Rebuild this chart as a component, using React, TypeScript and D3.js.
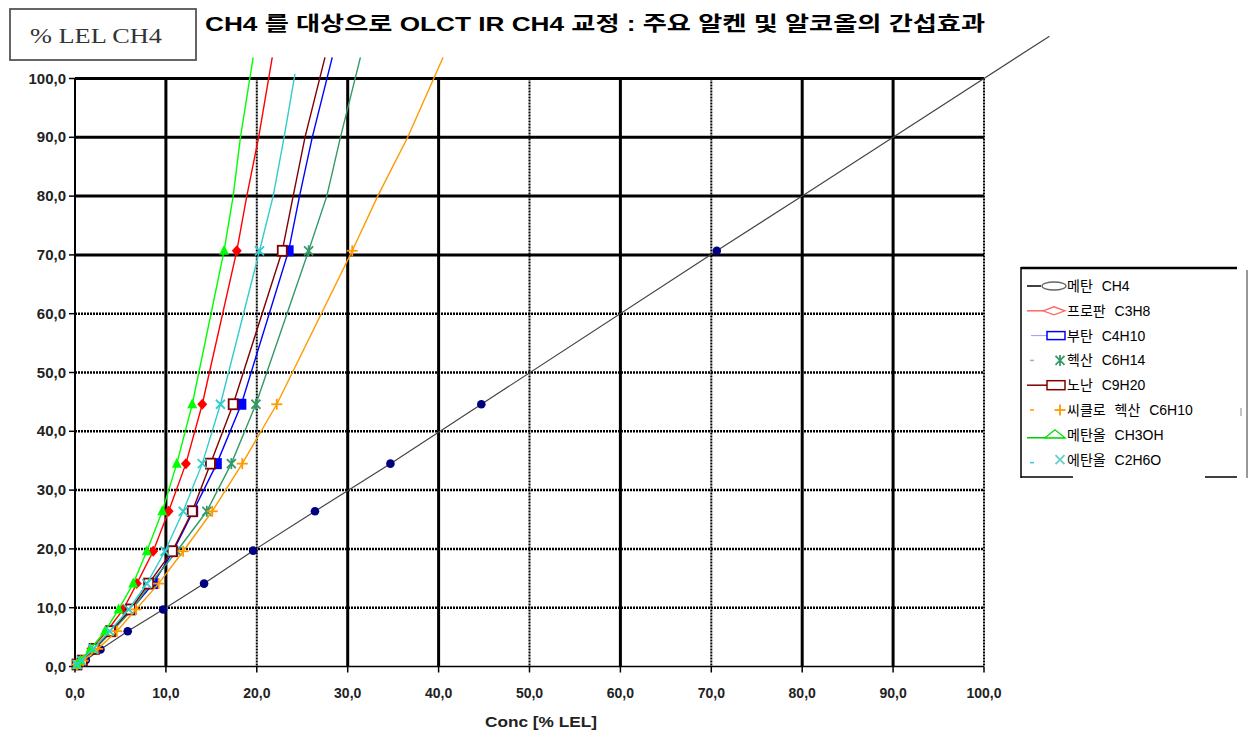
import React from 'react';
import * as d3 from 'd3';

// ---- data ----
const yLevels = [0, 1, 3, 6, 9.7, 14.1, 19.6, 26.4, 34.5, 44.6, 70.7, 80, 90];
const ch4Y = [0, 1.1, 2.9, 6.0, 9.7, 14.1, 19.7, 26.4, 34.5, 44.6, 70.7, 80, 90];
const markedCount = 11;
const ch4X = [0, 1.2, 2.8, 5.8, 9.7, 14.2, 19.6, 26.4, 34.7, 44.7, 70.6, 80, 90];
const propaneX = [0, 0.7, 1.8, 3.5, 5.3, 6.8, 8.6, 10.3, 12.2, 14.0, 17.8, 18.9, 20.2];
const butaneX = [0, 0.8, 2.2, 4.0, 6.2, 8.6, 10.8, 13.0, 15.6, 18.3, 23.5, 24.7, 26.1];
const hexaneX = [0, 0.8, 2.2, 4.1, 6.3, 8.3, 11.2, 14.5, 17.2, 19.9, 25.7, 27.7, 29.2];
const nonaneX = [0, 0.8, 2.1, 3.9, 6.1, 8.1, 10.7, 12.9, 14.9, 17.4, 22.8, 24.0, 25.3];
const cyclohexaneX = [0, 0.9, 2.5, 4.6, 6.7, 9.2, 11.9, 15.1, 18.4, 22.2, 30.5, 33.3, 36.6];
const methanolX = [0, 0.6, 1.7, 3.3, 4.8, 6.4, 7.9, 9.6, 11.2, 12.9, 16.4, 17.4, 18.2];
const ethanolX = [0, 0.7, 2.0, 3.8, 5.9, 7.9, 9.9, 11.9, 14.0, 16.0, 20.3, 21.8, 23.0];
const topX = [107.2, 21.7, 28.3, 31.4, 27.5, 40.5, 19.6, 24.2];
const topY = [107.2, 103.6, 103.6, 103.6, 103.6, 103.6, 103.6, 100.8];
const seriesNames = ['메탄 CH4', '프로판 C3H8', '부탄 C4H10', '헥산 C6H14', '노난 C9H20', '씨클로 헥산 C6H10', '메탄올 CH3OH', '에탄올 C2H6O'];
const xTicks = [0, 10, 20, 30, 40, 50, 60, 70, 80, 90, 100];
const yTicks = [0, 10, 20, 30, 40, 50, 60, 70, 80, 90, 100];
const titleText = 'CH4 를  대상으로 OLCT IR CH4 교정 :  주요 알켄 및 알코올의 간섭효과';
const xAxisTitle = 'Conc [% LEL]';
const boxLabel = '% LEL CH4';

// ---- styles ----
const seriesX = [ch4X, propaneX, butaneX, hexaneX, nonaneX, cyclohexaneX, methanolX, ethanolX];
const lineColors = ['#444444', '#FF0000', '#0000FF', '#339966', '#800000', '#FF9900', '#00FF00', '#33CCCC'];
const markerColors = ['#000080', '#FF0000', '#0000FF', '#339966', '#800000', '#FF9900', '#00FF00', '#33CCCC'];
const markerTypes = ['circle', 'diamond', 'square', 'star', 'hsquare', 'plus', 'triangle', 'cross'];
const vSolid = new Set([10, 30, 40, 60, 80, 90]);
const hSolid = new Set([70, 80, 90, 100]);

const FONT = '"Liberation Sans", Arial, "Noto Sans CJK KR", sans-serif';

function Marker({ type, cx, cy, color }: { type: string; cx: number; cy: number; color: string }) {
  switch (type) {
    case 'circle':
      return <circle cx={cx} cy={cy} r={4.3} fill={color} />;
    case 'diamond':
      return <path d={`M${cx},${cy - 5.5}L${cx + 5},${cy}L${cx},${cy + 5.5}L${cx - 5},${cy}Z`} fill={color} />;
    case 'square':
      return <rect x={cx - 5} y={cy - 5.5} width={10} height={11} fill={color} />;
    case 'hsquare':
      return <rect x={cx - 4.5} y={cy - 5} width={9} height={10} fill="#fff" stroke={color} strokeWidth={1.8} />;
    case 'triangle':
      return <path d={`M${cx},${cy - 6}L${cx + 5},${cy + 4}L${cx - 5},${cy + 4}Z`} fill={color} />;
    case 'plus':
      return (
        <g stroke={color} strokeWidth={1.8}>
          <line x1={cx - 5.5} y1={cy} x2={cx + 5.5} y2={cy} />
          <line x1={cx} y1={cy - 5.5} x2={cx} y2={cy + 5.5} />
        </g>
      );
    case 'cross':
      return (
        <g stroke={color} strokeWidth={1.8}>
          <line x1={cx - 4.5} y1={cy - 4.5} x2={cx + 4.5} y2={cy + 4.5} />
          <line x1={cx - 4.5} y1={cy + 4.5} x2={cx + 4.5} y2={cy - 4.5} />
        </g>
      );
    case 'star':
      return (
        <g stroke={color} strokeWidth={1.8}>
          <line x1={cx - 4.5} y1={cy - 4.5} x2={cx + 4.5} y2={cy + 4.5} />
          <line x1={cx - 4.5} y1={cy + 4.5} x2={cx + 4.5} y2={cy - 4.5} />
          <line x1={cx} y1={cy - 5.5} x2={cx} y2={cy + 5.5} />
        </g>
      );
    default:
      return null;
  }
}

function LegendSymbol({ i, x, y }: { i: number; x: number; y: number }) {
  switch (i) {
    case 0:
      return (
        <g>
          <line x1={x} y1={y} x2={x + 14} y2={y} stroke="#000" strokeWidth={1.5} />
          <ellipse cx={x + 27} cy={y} rx={12} ry={4} fill="#fff" stroke="#666" strokeWidth={1.3} />
        </g>
      );
    case 1:
      return (
        <g>
          <line x1={x} y1={y} x2={x + 16} y2={y} stroke="#FF6666" strokeWidth={1.5} />
          <path d={`M${x + 16},${y}L${x + 27},${y - 4}L${x + 38},${y}L${x + 27},${y + 4}Z`} fill="#fff" stroke="#FF6666" strokeWidth={1.3} />
        </g>
      );
    case 2:
      return (
        <g>
          <line x1={x + 4} y1={y} x2={x + 20} y2={y} stroke="#9999FF" strokeWidth={1} />
          <rect x={x + 20} y={y - 4} width={18} height={8} fill="#fff" stroke="#0000FF" strokeWidth={1.5} />
        </g>
      );
    case 3:
      return (
        <g>
          <line x1={x + 3} y1={y} x2={x + 7} y2={y} stroke="#aaa" strokeWidth={1.5} />
          <Marker type="star" cx={x + 33} cy={y} color="#339966" />
        </g>
      );
    case 4:
      return (
        <g>
          <line x1={x} y1={y} x2={x + 20} y2={y} stroke="#800000" strokeWidth={1.5} />
          <rect x={x + 20} y={y - 4.5} width={18} height={9} fill="#fff" stroke="#800000" strokeWidth={1.5} />
        </g>
      );
    case 5:
      return (
        <g>
          <line x1={x + 3} y1={y} x2={x + 7} y2={y} stroke="#FF9900" strokeWidth={1.5} />
          <Marker type="plus" cx={x + 33} cy={y} color="#FF9900" />
        </g>
      );
    case 6:
      return (
        <g>
          <line x1={x} y1={y + 3} x2={x + 38} y2={y + 3} stroke="#00CC00" strokeWidth={1.5} />
          <path d={`M${x + 18},${y + 3}L${x + 28},${y - 5}L${x + 38},${y + 3}Z`} fill="#fff" stroke="#00DD00" strokeWidth={1.3} />
        </g>
      );
    case 7:
      return (
        <g>
          <line x1={x + 3} y1={y + 3} x2={x + 7} y2={y + 3} stroke="#33CCCC" strokeWidth={1.5} />
          <Marker type="cross" cx={x + 33} cy={y} color="#66CCCC" />
        </g>
      );
    default:
      return null;
  }
}

const fmt = (t: number) => d3.format('.1f')(t).replace('.', ',');

export default function App() {
  const W = 1249;
  const H = 733;
  const x = d3.scaleLinear().domain([0, 100]).range([75, 984]);
  const y = d3.scaleLinear().domain([0, 100]).range([666.5, 78.5]);

  const line = d3
    .line<[number, number]>()
    .x((d) => x(d[0]))
    .y((d) => y(d[1]));

  return (
    <svg width={W} height={H} style={{ position: 'absolute', left: 0, top: 0, background: '#fff' }}>
      <rect x={0} y={0} width={W} height={H} fill="#fff" />
      {/* top-left box */}
      <rect x={10} y={9} width={186} height={51} fill="#fff" stroke="#555" strokeWidth={1.8} />
      <text x={30} y={43} fontFamily='"Liberation Serif", "Times New Roman", serif' fontSize={22} fill="#333" textLength={132} lengthAdjust="spacingAndGlyphs">
        {boxLabel}
      </text>
      {/* title */}
      <text x={205} y={31} fontFamily={FONT} fontWeight="bold" fontSize={20} fill="#000" textLength={780} lengthAdjust="spacingAndGlyphs">
        {titleText}
      </text>

      {/* grid: horizontal */}
      {yTicks.filter((t) => t > 0).map((t) => (
        <line
          key={'h' + t}
          x1={x(0)}
          x2={x(100)}
          y1={y(t)}
          y2={y(t)}
          stroke="#000"
          strokeWidth={hSolid.has(t) ? 3 : 2.5}
          strokeDasharray={hSolid.has(t) ? undefined : '2,1'}
        />
      ))}
      {/* grid: vertical */}
      {xTicks.filter((t) => t > 0).map((t) => (
        <line
          key={'v' + t}
          x1={x(t)}
          x2={x(t)}
          y1={y(100)}
          y2={y(0)}
          stroke="#000"
          strokeWidth={vSolid.has(t) ? 3 : 2}
          strokeDasharray={vSolid.has(t) ? undefined : '2,1'}
        />
      ))}
      {/* axes */}
      <line x1={x(0)} x2={x(0)} y1={y(100)} y2={y(0)} stroke="#000" strokeWidth={2} />
      <line x1={x(0)} x2={x(100)} y1={y(0)} y2={y(0)} stroke="#000" strokeWidth={1.5} />
      {yTicks.map((t) => (
        <g key={'yt' + t}>
          <line x1={x(0) - 6} x2={x(0)} y1={y(t)} y2={y(t)} stroke="#000" strokeWidth={1.5} />
          <text x={x(0) - 9} y={y(t) + 5} textAnchor="end" fontFamily={FONT} fontWeight="bold" fontSize={15} fill="#222">
            {fmt(t)}
          </text>
        </g>
      ))}
      {xTicks.map((t) => (
        <g key={'xt' + t}>
          <line x1={x(t)} x2={x(t)} y1={y(0)} y2={y(0) + 6} stroke="#000" strokeWidth={1.5} />
          <text x={x(t)} y={y(0) + 31} textAnchor="middle" fontFamily={FONT} fontWeight="bold" fontSize={14} fill="#222">
            {fmt(t)}
          </text>
        </g>
      ))}
      <text x={541} y={727} textAnchor="middle" fontFamily={FONT} fontWeight="bold" fontSize={14} fill="#222" textLength={112} lengthAdjust="spacingAndGlyphs">
        {xAxisTitle}
      </text>

      {/* series */}
      {seriesX.map((xs, si) => {
        const ys = si === 0 ? ch4Y : yLevels;
        const pts: [number, number][] = xs.map((v, i) => [v, ys[i]] as [number, number]);
        const all = [...pts, [topX[si], topY[si]] as [number, number]];
        return (
          <g key={'s' + si}>
            <path d={line(all) || ''} fill="none" stroke={lineColors[si]} strokeWidth={si === 0 ? 1.2 : 1.4} />
            {pts.slice(1, markedCount).map((p, i) => (
              <Marker key={i} type={markerTypes[si]} cx={x(p[0])} cy={y(p[1])} color={markerColors[si]} />
            ))}
            <Marker type={markerTypes[si]} cx={x(0) + 2} cy={y(0) - 2} color={markerColors[si]} />
          </g>
        );
      })}

      {/* legend */}
      <rect x={1021} y={268} width={226} height={210} fill="#fff" />
      <line x1={1021} x2={1237} y1={268} y2={268} stroke="#000" strokeWidth={2.5} />
      <line x1={1247} x2={1247} y1={270} y2={478} stroke="#333" strokeWidth={1} />
      <line x1={1021} x2={1021} y1={267} y2={478} stroke="#000" strokeWidth={1.5} />
      <line x1={1021} x2={1073} y1={477} y2={477} stroke="#000" strokeWidth={1.5} />
      <line x1={1205} x2={1237} y1={477} y2={477} stroke="#000" strokeWidth={1.5} />
      <line x1={1241} x2={1241} y1={408} y2={416} stroke="#888" strokeWidth={1} />
      {seriesNames.map((n, i) => (
        <g key={'lg' + i}>
          <LegendSymbol i={i} x={1027} y={286 + i * 24.8} />
          <text x={1067} y={286 + i * 24.8 + 5} fontFamily={FONT} fontSize={14} wordSpacing={5} fill="#000">
            {n}
          </text>
        </g>
      ))}
    </svg>
  );
}
